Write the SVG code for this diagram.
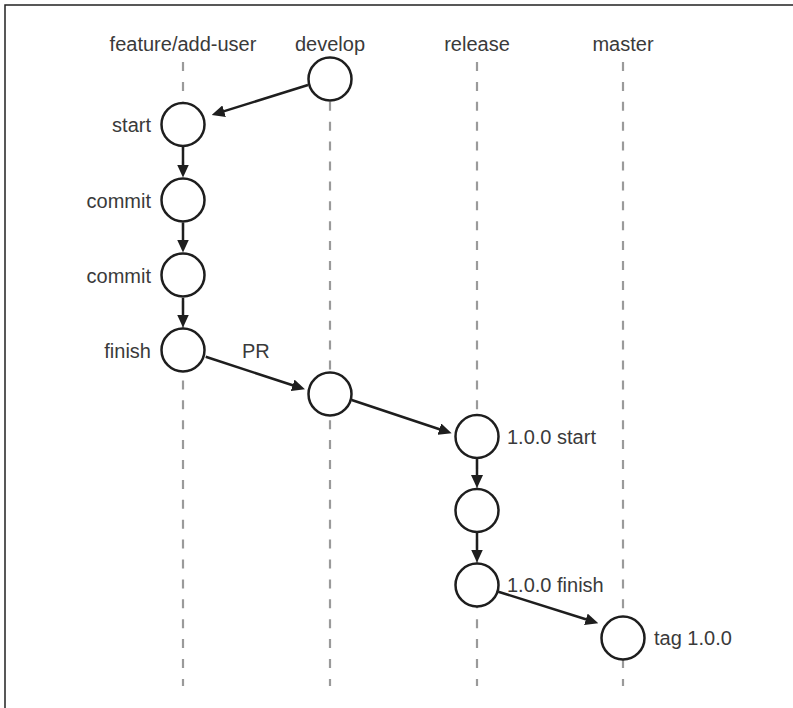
<svg xmlns="http://www.w3.org/2000/svg" width="793" height="708" viewBox="0 0 793 708">
  <style>
    .lane { stroke: #9a9a9a; stroke-width: 2.2; stroke-dasharray: 9 10.9; fill: none; }
    .node { fill: #ffffff; stroke: #1e1e1e; stroke-width: 2.5; }
    .edge { stroke: #1e1e1e; stroke-width: 2.5; fill: none; marker-end: url(#arrow); }
    .lbl { font-family: "Liberation Sans", Arial, sans-serif; font-size: 20px; fill: #3a3a3a; }
    .hdr { text-anchor: middle; }
    .left { text-anchor: end; }
    .frame { stroke: #222222; stroke-width: 1.5; fill: none; }
  </style>
  <defs>
    <marker id="arrow" markerUnits="userSpaceOnUse" markerWidth="13" markerHeight="12" refX="6.5" refY="6" orient="auto">
      <path d="M0,0 L13,6 L0,12 z" fill="#1e1e1e"/>
    </marker>
  </defs>
  <rect width="793" height="708" fill="#ffffff"/>
  <path class="frame" d="M5,708 L5,5 L793,5"/>

  <g id="lanes">
    <line class="lane" x1="183" y1="62" x2="183" y2="686"/>
    <line class="lane" x1="330" y1="62" x2="330" y2="686"/>
    <line class="lane" x1="477" y1="62" x2="477" y2="686"/>
    <line class="lane" x1="623" y1="62" x2="623" y2="686"/>
  </g>

  <g id="headers">
    <text class="lbl hdr" x="183" y="51">feature/add-user</text>
    <text class="lbl hdr" x="330" y="51">develop</text>
    <text class="lbl hdr" x="477" y="51">release</text>
    <text class="lbl hdr" x="623" y="51">master</text>
  </g>

  <g id="connectors">
    <line class="edge" x1="308" y1="85" x2="217.9" y2="113.1"/>
    <line class="edge" x1="183" y1="147" x2="183" y2="171"/>
    <line class="edge" x1="183" y1="223" x2="183" y2="246"/>
    <line class="edge" x1="183" y1="298" x2="183" y2="321"/>
    <line class="edge" x1="205.7" y1="356.7" x2="298.8" y2="387.3"/>
    <line class="edge" x1="351.7" y1="400" x2="445.5" y2="431.2"/>
    <line class="edge" x1="477" y1="459" x2="477" y2="481.5"/>
    <line class="edge" x1="477" y1="533" x2="477" y2="556"/>
    <line class="edge" x1="498.3" y1="591.7" x2="592.1" y2="621.3"/>
    <text class="lbl" x="242" y="358">PR</text>
  </g>

  <g id="develop-1"><circle class="node" cx="330" cy="79" r="21.5"/></g>
  <g id="feature-start"><circle class="node" cx="183" cy="124.5" r="21.5"/><text class="lbl left" x="151" y="132">start</text></g>
  <g id="feature-commit-1"><circle class="node" cx="183" cy="200" r="21.5"/><text class="lbl left" x="151" y="207.5">commit</text></g>
  <g id="feature-commit-2"><circle class="node" cx="183" cy="275" r="21.5"/><text class="lbl left" x="151" y="282.5">commit</text></g>
  <g id="feature-finish"><circle class="node" cx="183" cy="350" r="21.5"/><text class="lbl left" x="151" y="357.5">finish</text></g>
  <g id="develop-2"><circle class="node" cx="330" cy="394" r="21.5"/></g>
  <g id="release-start"><circle class="node" cx="477" cy="436.5" r="21.5"/><text class="lbl" x="507" y="443.5">1.0.0 start</text></g>
  <g id="release-commit"><circle class="node" cx="477" cy="510.5" r="21.5"/></g>
  <g id="release-finish"><circle class="node" cx="477" cy="585" r="21.5"/><text class="lbl" x="507" y="592">1.0.0 finish</text></g>
  <g id="master-tag"><circle class="node" cx="623" cy="638" r="21.5"/><text class="lbl" x="654" y="645">tag 1.0.0</text></g>
</svg>
